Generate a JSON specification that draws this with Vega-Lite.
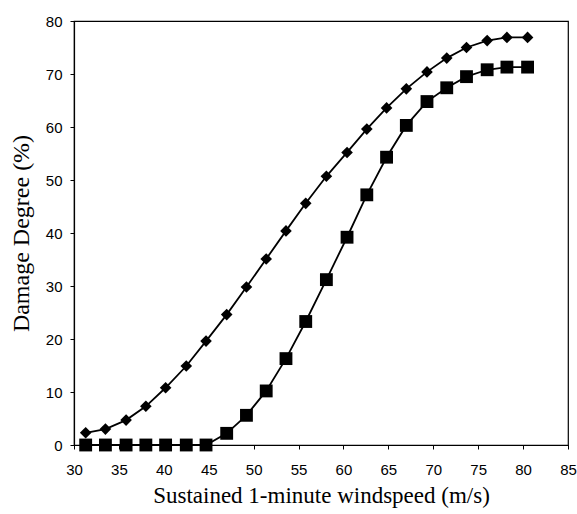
{
  "$schema": "https://vega.github.io/schema/vega-lite/v6.json",
  "width": 494,
  "height": 424,
  "autosize": "none",
  "padding": {"left": 74, "top": 21, "right": 9, "bottom": 69},
  "background": "white",
  "config": {
    "view": {"stroke": "black", "strokeWidth": 1.2},
    "axis": {
      "domainColor": "black",
      "domainWidth": 1.2,
      "tickColor": "black",
      "tickSize": 4,
      "grid": false,
      "labelFont": "Liberation Sans",
      "labelFontSize": 15,
      "labelColor": "black",
      "labelFlush": false,
      "titleFont": "Liberation Serif",
      "titleFontWeight": "normal",
      "titleColor": "black"
    }
  },
  "data": {
    "values": [
      {"speed": 31.3, "degree": 2.3, "curve": "A"},
      {"speed": 33.5, "degree": 3.0, "curve": "A"},
      {"speed": 35.8, "degree": 4.7, "curve": "A"},
      {"speed": 38.0, "degree": 7.3, "curve": "A"},
      {"speed": 40.2, "degree": 10.8, "curve": "A"},
      {"speed": 42.5, "degree": 14.9, "curve": "A"},
      {"speed": 44.7, "degree": 19.6, "curve": "A"},
      {"speed": 47.0, "degree": 24.6, "curve": "A"},
      {"speed": 49.2, "degree": 29.8, "curve": "A"},
      {"speed": 51.4, "degree": 35.1, "curve": "A"},
      {"speed": 53.6, "degree": 40.4, "curve": "A"},
      {"speed": 55.8, "degree": 45.6, "curve": "A"},
      {"speed": 58.1, "degree": 50.7, "curve": "A"},
      {"speed": 60.4, "degree": 55.2, "curve": "A"},
      {"speed": 62.6, "degree": 59.6, "curve": "A"},
      {"speed": 64.8, "degree": 63.6, "curve": "A"},
      {"speed": 67.0, "degree": 67.2, "curve": "A"},
      {"speed": 69.3, "degree": 70.4, "curve": "A"},
      {"speed": 71.5, "degree": 73.0, "curve": "A"},
      {"speed": 73.7, "degree": 75.0, "curve": "A"},
      {"speed": 76.0, "degree": 76.3, "curve": "A"},
      {"speed": 78.2, "degree": 76.9, "curve": "A"},
      {"speed": 80.5, "degree": 76.9, "curve": "A"},
      {"speed": 31.3, "degree": 0, "curve": "B"},
      {"speed": 33.5, "degree": 0, "curve": "B"},
      {"speed": 35.8, "degree": 0, "curve": "B"},
      {"speed": 38.0, "degree": 0, "curve": "B"},
      {"speed": 40.2, "degree": 0, "curve": "B"},
      {"speed": 42.5, "degree": 0, "curve": "B"},
      {"speed": 44.7, "degree": 0, "curve": "B"},
      {"speed": 47.0, "degree": 2.2, "curve": "B"},
      {"speed": 49.2, "degree": 5.6, "curve": "B"},
      {"speed": 51.4, "degree": 10.2, "curve": "B"},
      {"speed": 53.6, "degree": 16.3, "curve": "B"},
      {"speed": 55.8, "degree": 23.3, "curve": "B"},
      {"speed": 58.1, "degree": 31.2, "curve": "B"},
      {"speed": 60.4, "degree": 39.2, "curve": "B"},
      {"speed": 62.6, "degree": 47.2, "curve": "B"},
      {"speed": 64.8, "degree": 54.3, "curve": "B"},
      {"speed": 67.0, "degree": 60.3, "curve": "B"},
      {"speed": 69.3, "degree": 64.8, "curve": "B"},
      {"speed": 71.5, "degree": 67.4, "curve": "B"},
      {"speed": 73.7, "degree": 69.5, "curve": "B"},
      {"speed": 76.0, "degree": 70.8, "curve": "B"},
      {"speed": 78.2, "degree": 71.3, "curve": "B"},
      {"speed": 80.5, "degree": 71.3, "curve": "B"}
    ]
  },
  "encoding": {
    "x": {
      "field": "speed",
      "type": "quantitative",
      "scale": {"domain": [30, 85], "nice": false, "zero": false},
      "axis": {"values": [30, 35, 40, 45, 50, 55, 60, 65, 70, 75, 80, 85], "labelPadding": 13, "title": "Sustained 1-minute windspeed (m/s)", "titleFontSize": 23, "titlePadding": 7}
    },
    "y": {
      "field": "degree",
      "type": "quantitative",
      "scale": {"domain": [0, 80], "nice": false},
      "axis": {"values": [0, 10, 20, 30, 40, 50, 60, 70, 80], "labelPadding": 8, "title": "Damage Degree (%)", "titleFontSize": 24, "titlePadding": 12}
    },
    "detail": {"field": "curve"}
  },
  "layer": [
    {"mark": {"type": "line", "color": "black", "strokeWidth": 1.8}},
    {
      "transform": [{"filter": "datum.curve === 'A'"}],
      "mark": {"type": "point", "shape": "diamond", "filled": true, "color": "black", "opacity": 1, "size": 135}
    },
    {
      "transform": [{"filter": "datum.curve === 'B'"}],
      "mark": {"type": "point", "shape": "square", "filled": true, "color": "black", "opacity": 1, "size": 165}
    }
  ]
}
